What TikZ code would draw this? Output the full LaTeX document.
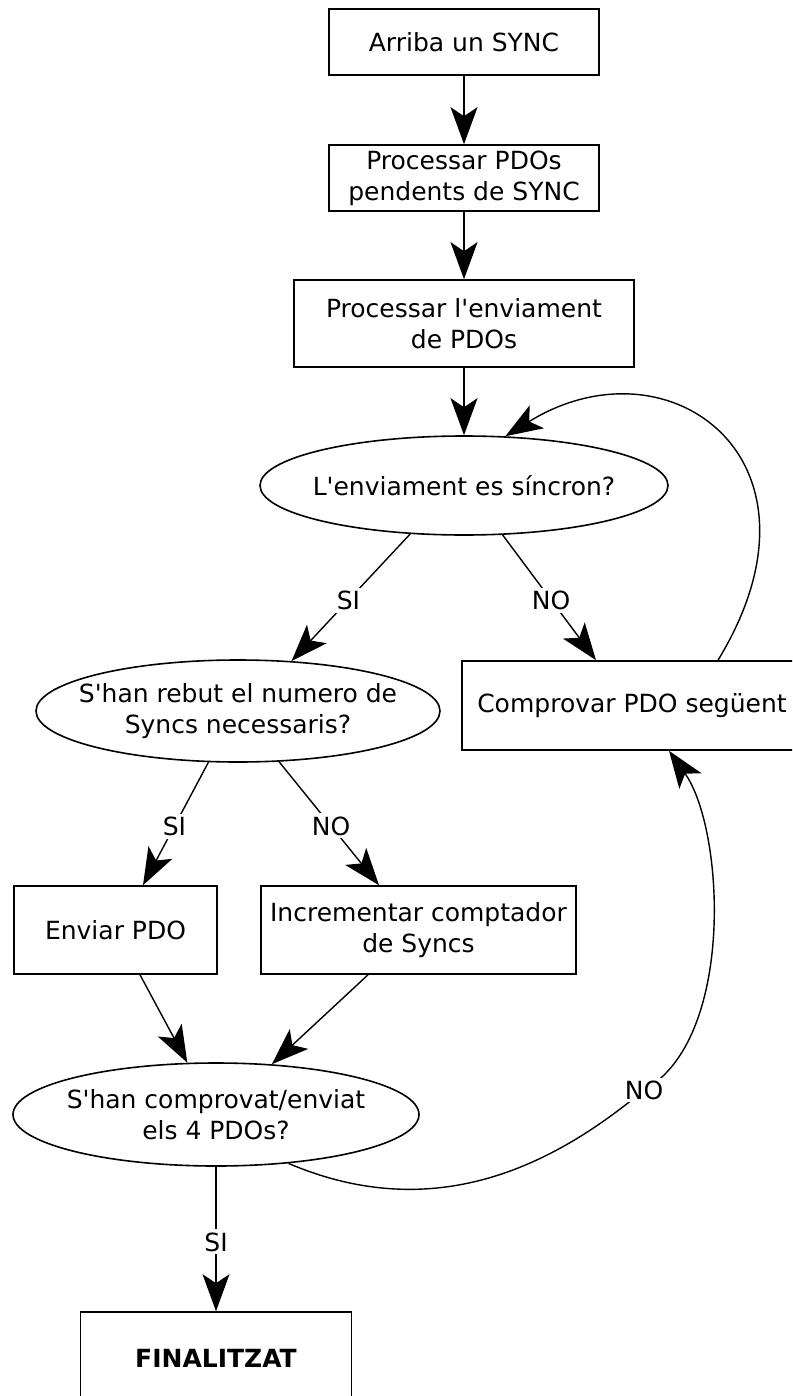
\documentclass[tikz,border=0pt]{standalone}
\usepackage{fontspec}
\setmainfont{DejaVu Sans}[Ligatures=TeXOff]
\usetikzlibrary{arrows.meta,shapes.geometric}
\begin{document}
\begin{tikzpicture}[x=1pt,y=-1pt,
  font=\fontsize{25}{31}\selectfont,
  box/.style={draw, line width=1.6pt, rectangle, inner sep=0pt, align=center},
  ell/.style={draw, line width=1.6pt, ellipse, inner sep=0pt},
  etext/.style={align=center, inner sep=0pt},
  conn/.style={line width=1.4pt, -{Stealth[length=37pt,width=27pt,inset=9pt]}},
  lab/.style={fill=white, inner sep=3pt}]
\useasboundingbox (0,0) rectangle (792,1396);
\clip (0,0) rectangle (792,1396);
\fill[white] (0,0) rectangle (792,1396);

\node[box, minimum width=270pt, minimum height=66pt] (b1) at (464,42) {Arriba un SYNC};
\node[box, minimum width=270pt, minimum height=66pt] (b2) at (464,178) {Processar PDOs\\pendents de SYNC};
\node[box, minimum width=340pt, minimum height=87pt] (b3) at (464,323.5) {Processar l'enviament\\de PDOs};
\node[ell, minimum width=408pt, minimum height=99pt, label={[etext]center:L'enviament es síncron?}] (e1) at (464,485.5) {};
\node[ell, minimum width=404pt, minimum height=102pt, label={[etext]center:S'han rebut el numero de\\Syncs necessaris?}] (e2) at (238,711) {};
\node[box, minimum width=340pt, minimum height=89pt] (cmp) at (632,705.5) {Comprovar PDO següent};
\node[box, minimum width=203pt, minimum height=88pt] (env) at (115.5,930) {Enviar PDO};
\node[box, minimum width=315pt, minimum height=88pt] (inc) at (418.5,930) {Incrementar comptador\\de Syncs};
\node[ell, minimum width=406pt, minimum height=103pt, label={[etext]center:S'han comprovat/enviat\\els 4 PDOs?}] (e3) at (216,1114.5) {};
\node[box, minimum width=271pt, minimum height=92pt] (fin) at (216,1358) {\bfseries FINALITZAT};

\draw[conn] (b1) -- (b2);
\draw[conn] (b2) -- (b3);
\draw[conn] (b3) -- (e1);
\draw[conn] (e1.222) -- node[lab,pos=0.52]{SI} (e2.43);
\draw[conn] (e1.308) -- node[lab,pos=0.52]{NO} ([xshift=-36pt]cmp.north);
\draw[conn] ([xshift=86pt]cmp.north) .. controls (840,460) and (669,335) .. (e1.50);
\draw[conn] (e2.240) -- node[lab,pos=0.52]{SI} ([xshift=27.5pt]env.north);
\draw[conn] (e2.309) -- node[lab,pos=0.52]{NO} ([xshift=-39.5pt]inc.north);
\draw[conn] ([xshift=24.5pt]env.south) -- (e3.119);
\draw[conn] ([xshift=-50.5pt]inc.south) -- (e3.42);
\draw[conn] (e3.-34) .. controls (440,1228) and (560,1160) .. (644,1090) node[lab]{NO} .. controls (735,1040) and (725,830) .. ([xshift=37pt]cmp.south);
\draw[conn] (e3) -- node[lab,pos=0.52]{SI} (fin);
\end{tikzpicture}
\end{document}
